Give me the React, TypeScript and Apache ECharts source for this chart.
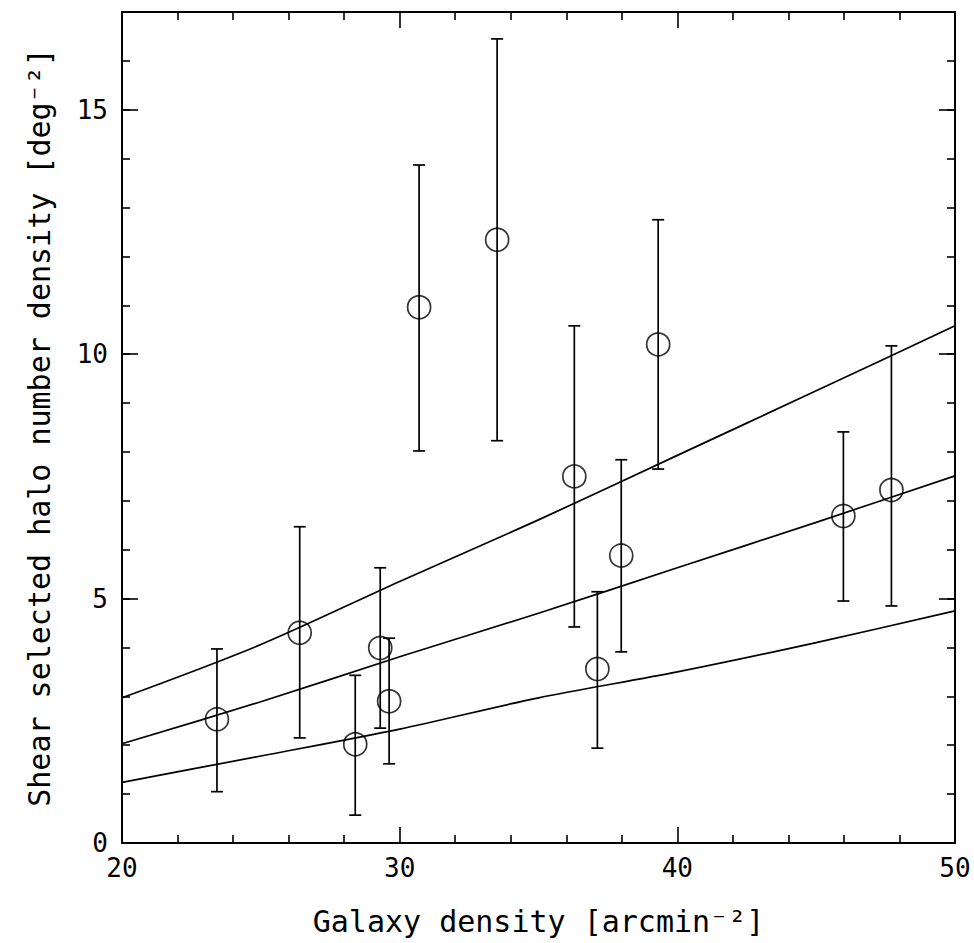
import React, { useEffect, useRef } from "react";
import * as echarts from "echarts";

// Observed points
const galaxyDensity = [23.42, 26.4, 28.4, 29.3, 29.62, 30.7, 33.51, 36.29, 37.12, 37.98, 39.31, 45.98, 47.71];
const haloDensity = [2.53, 4.3, 2.02, 3.99, 2.9, 10.96, 12.34, 7.5, 3.56, 5.88, 10.2, 6.69, 7.22];
const errLow = [1.05, 2.15, 0.57, 2.35, 1.62, 8.02, 8.23, 4.42, 1.94, 3.91, 7.65, 4.95, 4.85];
const errHigh = [3.97, 6.47, 3.43, 5.63, 4.19, 13.87, 16.45, 10.58, 5.14, 7.84, 12.75, 8.41, 10.17];

// Model curves
const curveX = [20, 25, 30, 35, 40, 45, 50];
const curveUpper = [2.97, 4.06, 5.35, 6.61, 7.93, 9.25, 10.58];
const curveMiddle = [2.03, 2.89, 3.81, 4.7, 5.63, 6.56, 7.51];
const curveLower = [1.24, 1.78, 2.33, 2.97, 3.5, 4.1, 4.75];

const xTitle = "Galaxy density [arcmin⁻²]";
const yTitle = "Shear selected halo number density [deg⁻²]";

const FONT = "DejaVu Sans Mono";
const BLACK = "#000";

export default function App() {
  const ref = useRef<HTMLDivElement>(null);
  useEffect(() => {
    if (!ref.current) return;
    const chart = echarts.init(ref.current, undefined, { renderer: "svg" });

    const tickStyle = { color: BLACK, width: 1.6 };
    const lineStyle = { color: BLACK, width: 2 };

    const xBase = (pos: "bottom" | "top", labels: boolean) => ({
      type: "value",
      gridIndex: 0,
      position: pos,
      min: 20,
      max: 50,
      interval: 10,
      axisLine: { show: true, onZero: false, lineStyle },
      axisTick: { show: true, inside: true, length: 16, lineStyle: tickStyle },
      minorTick: { show: true, splitNumber: 5, length: 8, lineStyle: tickStyle },
      splitLine: { show: false },
      minorSplitLine: { show: false },
      axisLabel: labels
        ? { show: true, color: BLACK, fontSize: 26, fontFamily: FONT, margin: 12 }
        : { show: false },
      ...(labels
        ? {
            name: xTitle,
            nameLocation: "middle",
            nameGap: 63,
            nameTextStyle: { color: BLACK, fontSize: 30, fontFamily: FONT },
          }
        : {}),
    });

    const yBase = (pos: "left" | "right", interval: number, len: number, labels: boolean, named: boolean) => ({
      type: "value",
      gridIndex: 0,
      position: pos,
      min: 0,
      max: 17,
      interval,
      axisLine: { show: true, onZero: false, lineStyle },
      axisTick: { show: true, inside: true, length: len, lineStyle: tickStyle },
      splitLine: { show: false },
      axisLabel: labels
        ? {
            show: true,
            color: BLACK,
            fontSize: 26,
            fontFamily: FONT,
            margin: 14,
            formatter: (v: number) => (v % 5 === 0 ? String(v) : ""),
          }
        : { show: false },
      ...(named
        ? {
            name: yTitle,
            nameLocation: "middle",
            nameGap: 68,
            nameTextStyle: { color: BLACK, fontSize: 30, fontFamily: FONT },
          }
        : {}),
    });

    const pts = galaxyDensity.map((x, i) => [x, haloDensity[i]]);
    const errs = galaxyDensity.map((x, i) => [x, errLow[i], errHigh[i]]);
    const mk = (ys: number[]) => curveX.map((x, i) => [x, ys[i]]);

    const curveSeries = (ys: number[]) => ({
      type: "line",
      xAxisIndex: 0,
      yAxisIndex: 0,
      data: mk(ys),
      showSymbol: false,
      smooth: 0.3,
      lineStyle: { color: BLACK, width: 1.7 },
      silent: true,
      z: 2,
    });

    chart.setOption({
      animation: false,
      backgroundColor: "#fff",
      grid: { left: 122, right: 19, top: 12, bottom: 100, containLabel: false },
      xAxis: [xBase("bottom", true), xBase("top", false)],
      yAxis: [
        yBase("left", 5, 16, true, true),
        yBase("left", 1, 8, false, false),
        yBase("right", 5, 16, false, false),
        yBase("right", 1, 8, false, false),
      ],
      series: [
        curveSeries(curveUpper),
        curveSeries(curveMiddle),
        curveSeries(curveLower),
        {
          type: "custom",
          xAxisIndex: 0,
          yAxisIndex: 0,
          data: errs,
          encode: { x: 0, y: [1, 2] },
          z: 3,
          renderItem: (_params: any, api: any) => {
            const x = api.value(0);
            const lo = api.coord([x, api.value(1)]);
            const hi = api.coord([x, api.value(2)]);
            const hw = 6;
            const style = { stroke: BLACK, lineWidth: 1.7, fill: "none" };
            return {
              type: "group",
              children: [
                { type: "line", shape: { x1: lo[0], y1: lo[1], x2: hi[0], y2: hi[1] }, style },
                { type: "line", shape: { x1: lo[0] - hw, y1: lo[1], x2: lo[0] + hw, y2: lo[1] }, style },
                { type: "line", shape: { x1: hi[0] - hw, y1: hi[1], x2: hi[0] + hw, y2: hi[1] }, style },
              ],
            };
          },
        },
        {
          type: "scatter",
          xAxisIndex: 0,
          yAxisIndex: 0,
          data: pts,
          symbol: "circle",
          symbolSize: 23,
          itemStyle: { color: "transparent", borderColor: BLACK, borderWidth: 1.7 },
          z: 4,
        },
      ],
    });

    return () => chart.dispose();
  }, []);

  return (
    <div
      ref={ref}
      style={{ position: "fixed", left: 0, top: 0, width: 974, height: 943, background: "#fff" }}
    />
  );
}
